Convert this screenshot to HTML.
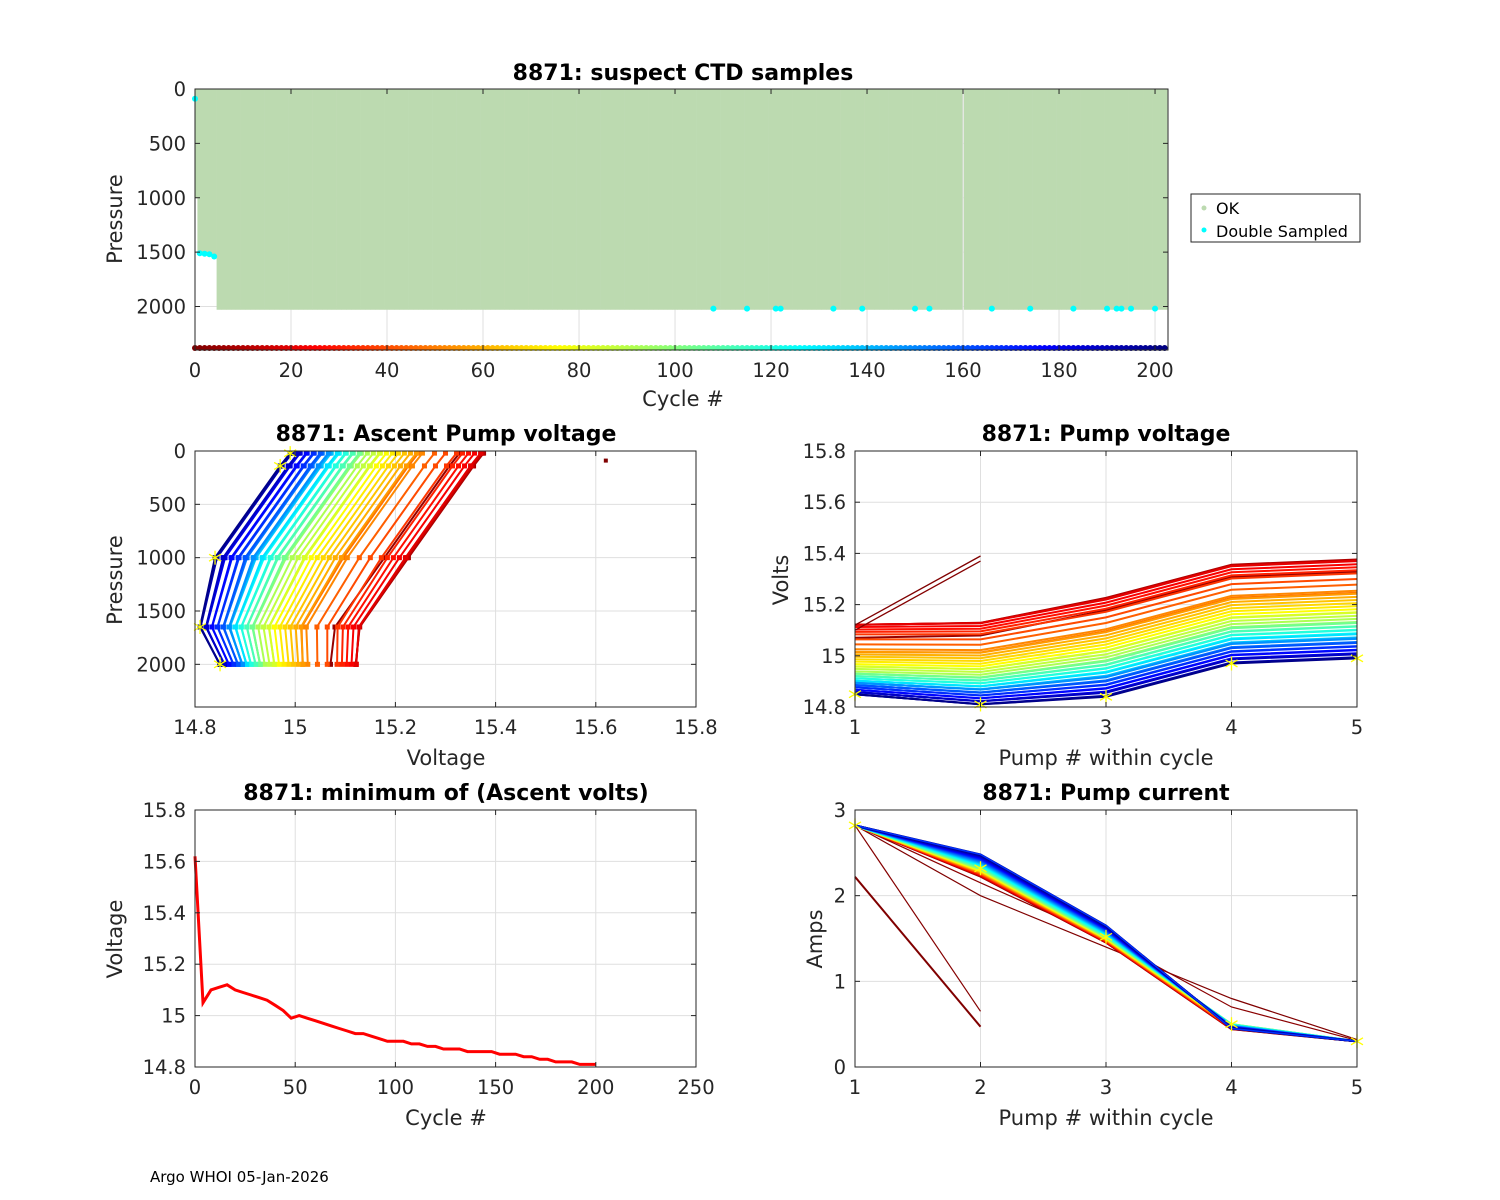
<!DOCTYPE html>
<html><head><meta charset="utf-8"><style>
body{margin:0;background:#fff}
svg{display:block;font-family:"DejaVu Sans","Liberation Sans",sans-serif}
.tk{font-size:19.5px;fill:#262626}
.ttl{font-size:22px;font-weight:bold;fill:#000}
.lbl{font-size:21px;fill:#262626}
</style></head><body>
<svg id="s" width="1500" height="1200" viewBox="0 0 1500 1200" xmlns="http://www.w3.org/2000/svg">
<rect width="1500" height="1200" fill="#fff"/>
<text x="150" y="1182" font-size="15" fill="#000">Argo WHOI 05-Jan-2026</text>
</svg>
<script>
// ---- data ----
const sampleCycles = [0,4,8,12,16,20,24,28,32,36,40,44,48,52,56,60,64,68,72,76,80,84,88,92,96,100,104,108,112,116,120,124,128,132,136,140,144,148,152,156,160,164,168,172,176,180,184,188,192,196,200];
const minVolt = [15.62,15.05,15.10,15.11,15.12,15.10,15.09,15.08,15.07,15.06,15.04,15.02,14.99,15.00,14.99,14.98,14.97,14.96,14.95,14.94,14.93,14.93,14.92,14.91,14.90,14.90,14.90,14.89,14.89,14.88,14.88,14.87,14.87,14.87,14.86,14.86,14.86,14.86,14.85,14.85,14.85,14.84,14.84,14.83,14.83,14.82,14.82,14.82,14.81,14.81,14.81];
const pumpOffsetEarly = [0.02,0.03,0.13,0.26,0.28];
const pumpOffsetLate = [0.04,0,0.03,0.16,0.18];
const pumpPressures = [2000,1650,1000,140,20];
const pumpNumbers = [1,2,3,4,5];
const outlierVoltA = [15.12,15.39];
const outlierVoltB = [15.10,15.37];
const currentLate = [2.82,2.48,1.65,0.45,0.30];
const currentMid = [2.82,2.32,1.52,0.50,0.30];
const currentEarly = [2.82,2.22,1.45,0.44,0.30];
const currentOutA = [2.82,2.00,1.40,0.80,0.32];
const currentOutB = [2.82,2.15,1.50,0.70,0.31];
const currentShortA = [2.22,0.47];
const currentShortB = [2.82,0.65];
const profileDepth = {0:1000,1:1500,2:1510,3:1520,4:1540};
const fullDepth = 2030;
const lastCycle = 202;
const missingCycle = 160;
const dblCycles = [0,1,2,3,4,108,115,121,122,133,139,150,153,166,174,183,190,192,193,195,200];
const dblPress = [90,1510,1515,1520,1540,2020,2020,2020,2020,2020,2020,2020,2020,2020,2020,2020,2020,2020,2020,2020,2020];

// ---- helpers ----
const S=document.getElementById('s');const NS='http://www.w3.org/2000/svg';
function mk(tag,attrs,parent){const e=document.createElementNS(NS,tag);for(const k in attrs)e.setAttribute(k,attrs[k]);(parent||S).appendChild(e);return e;}
function jet(t){t=Math.max(0,Math.min(1,t));const f=x=>Math.round(255*Math.max(0,Math.min(1,1.5-Math.abs(4*t-x))));return `rgb(${f(3)},${f(2)},${f(1)})`;}
function cyc(c){return jet(1-c/lastCycle);}
function axes(name,x0,y0,w,h,xmin,xmax,ymin,ymax,rev,xt,yt,xfmt,yfmt,grid){
  const g=mk('g',{});
  const sx=v=>x0+(v-xmin)/(xmax-xmin)*w;
  const sy=rev?(v=>y0+(v-ymin)/(ymax-ymin)*h):(v=>y0+h-(v-ymin)/(ymax-ymin)*h);
  const gg=mk('g',{},g);
  if(grid){xt.forEach(v=>mk('line',{x1:sx(v),x2:sx(v),y1:y0,y2:y0+h,stroke:'#dfdfdf','stroke-width':1},gg));
  yt.forEach(v=>mk('line',{x1:x0,x2:x0+w,y1:sy(v),y2:sy(v),stroke:'#dfdfdf','stroke-width':1},gg));}
  const plot=mk('g',{},g);
  const fr=mk('g',{},g);
  mk('rect',{x:x0,y:y0,width:w,height:h,fill:'none',stroke:'#262626','stroke-width':1},fr);
  xt.forEach(v=>{mk('line',{x1:sx(v),x2:sx(v),y1:y0+h,y2:y0+h-5,stroke:'#262626'},fr);mk('line',{x1:sx(v),x2:sx(v),y1:y0,y2:y0+5,stroke:'#262626'},fr);
    const t=mk('text',{x:sx(v),y:y0+h+27,'text-anchor':'middle',class:'tk'},fr);t.textContent=xfmt(v);
    });
  yt.forEach(v=>{mk('line',{x1:x0,x2:x0+5,y1:sy(v),y2:sy(v),stroke:'#262626'},fr);mk('line',{x1:x0+w,x2:x0+w-5,y1:sy(v),y2:sy(v),stroke:'#262626'},fr);
    const t=mk('text',{x:x0-9,y:sy(v)+7,'text-anchor':'end',class:'tk'},fr);t.textContent=yfmt(v);
    });
  return {sx,sy,plot,fr,g};
}
function txt(s,x,y,cls,name,rot){const t=mk('text',{x,y,'text-anchor':'middle',class:cls});if(rot)t.setAttribute('transform',`rotate(-90 ${x} ${y})`);t.textContent=s;return t;}
function poly(A,xs,ys,col,sw,name){const d=xs.map((x,i)=>(i?'L':'M')+A.sx(x).toFixed(1)+' '+A.sy(ys[i]).toFixed(1)).join('');const p=mk('path',{d,stroke:col,'stroke-width':sw,fill:'none'},A.plot);return p;}
function star(A,x,y,name){const cx=A.sx(x),cy=A.sy(y);const g=mk('g',{stroke:'#ffff00','stroke-width':1.3},A.plot);
  [[0,7],[6,3.5],[6,-3.5]].forEach(([dx,dy])=>mk('line',{x1:cx-dx,y1:cy-dy,x2:cx+dx,y2:cy+dy},g));}
const fmtD=v=>String(+v.toFixed(1));
function pumpVolts(i){const t=Math.min(1,sampleCycles[i]/200);const v=Math.min(minVolt[i],15.10);return pumpOffsetEarly.map((o,k)=>v+o*(1-t)+pumpOffsetLate[k]*t);}

// ---- Panel 1 ----
const A1=axes('ctd-samples-axes',195,89,973,261,0,lastCycle+0.7,0,2400,true,[0,20,40,60,80,100,120,140,160,180,200],[0,500,1000,1500,2000],String,String,true);
for(let c=0;c<=lastCycle;c++){if(c===missingCycle)continue;const d=profileDepth[c]!==undefined?profileDepth[c]:fullDepth;
  const x1=A1.sx(Math.max(0,c-0.5)),x2=A1.sx(c+0.5)+(c===missingCycle-1?1.6:0);
  const xl=(c===missingCycle+1)?A1.sx(c-0.5)-1.6:x1;
  const r=mk('rect',{x:xl,y:A1.sy(0),width:x2-xl+0.3,height:A1.sy(d)-A1.sy(0),fill:'#bcdab0'},A1.plot);
  }
for(let c=0;c<=lastCycle;c++){const e=mk('circle',{cx:A1.sx(c),cy:A1.sy(2400)-2,r:3,fill:cyc(c)},A1.plot);}
dblCycles.forEach((c,i)=>{const e=mk('circle',{cx:A1.sx(c),cy:A1.sy(dblPress[i]),r:3,fill:'#00ffff'},A1.plot);});
txt('8871: suspect CTD samples',683,80,'ttl','ctd-title');
txt('Cycle #',683,406,'lbl','ctd-x-axis-title');
txt('Pressure',122,219,'lbl','ctd-y-axis-title',true);
const lg=mk('g',{});
mk('rect',{x:1191,y:194,width:169,height:48,fill:'#fff',stroke:'#262626'},lg);
mk('circle',{cx:1204,cy:208,r:2.5,fill:'#bcdab0'},lg);mk('circle',{cx:1204,cy:230,r:2.5,fill:'#00ffff'},lg);
let t=mk('text',{x:1216,y:214,'font-size':16,fill:'#000'},lg);t.textContent='OK';
t=mk('text',{x:1216,y:237,'font-size':16,fill:'#000'},lg);t.textContent='Double Sampled';

// ---- Panel 2 ----
const A2=axes('ascent-voltage-axes',195,451,501,256,14.8,15.8,0,2400,true,[14.8,15,15.2,15.4,15.6,15.8],[0,500,1000,1500,2000],fmtD,String,true);
for(let i=1;i<sampleCycles.length;i++){const v=pumpVolts(i);const col=cyc(sampleCycles[i]);
  poly(A2,v,pumpPressures,col,2,'ascent-profile-line');
  v.forEach((x,k)=>{const e=mk('rect',{x:A2.sx(x)-2.5,y:A2.sy(pumpPressures[k])-2.5,width:5,height:5,fill:col},A2.plot);});}
{const e=mk('rect',{x:A2.sx(minVolt[0])-2,y:A2.sy(90)-2,width:4,height:4,fill:cyc(0)},A2.plot);}
pumpVolts(sampleCycles.length-1).forEach((x,k)=>star(A2,x,pumpPressures[k],'last-cycle-marker'));
txt('8871: Ascent Pump voltage',446,441,'ttl','ascent-voltage-title');
txt('Voltage',446,765,'lbl','ascent-voltage-x-axis-title');
txt('Pressure',122,580,'lbl','ascent-voltage-y-axis-title',true);

// ---- Panel 3 ----
const A3=axes('pump-voltage-axes',855,451,502,256,1,5,14.8,15.8,false,[1,2,3,4,5],[14.8,15,15.2,15.4,15.6,15.8],String,fmtD,true);
for(let i=1;i<sampleCycles.length;i++){poly(A3,pumpNumbers,pumpVolts(i),cyc(sampleCycles[i]),2,'pump-voltage-line');}
poly(A3,[1,2],outlierVoltA,cyc(0),1.3,'pump-voltage-outlier-line');
poly(A3,[1,2],outlierVoltB,cyc(1),1.3,'pump-voltage-outlier-line');
pumpVolts(sampleCycles.length-1).forEach((v,k)=>star(A3,pumpNumbers[k],v,'last-cycle-marker'));
txt('8871: Pump voltage',1106,441,'ttl','pump-voltage-title');
txt('Pump # within cycle',1106,765,'lbl','pump-voltage-x-axis-title');
txt('Volts',788,580,'lbl','pump-voltage-y-axis-title',true);

// ---- Panel 4 ----
const A4=axes('min-volts-axes',195,810,501,257,0,250,14.8,15.8,false,[0,50,100,150,200,250],[14.8,15,15.2,15.4,15.6,15.8],String,fmtD,true);
poly(A4,sampleCycles,minVolt,'#ff0000',3,'min-volts-line');
txt('8871: minimum of (Ascent volts)',446,800,'ttl','min-volts-title');
txt('Cycle #',446,1125,'lbl','min-volts-x-axis-title');
txt('Voltage',122,939,'lbl','min-volts-y-axis-title',true);

// ---- Panel 5 ----
const A5=axes('pump-current-axes',855,810,502,257,1,5,0,3,false,[1,2,3,4,5],[0,1,2,3],String,String,true);
poly(A5,pumpNumbers,currentOutA,cyc(0),1.2,'pump-current-outlier-line');
poly(A5,pumpNumbers,currentOutB,cyc(2),1.2,'pump-current-outlier-line');
poly(A5,[1,2],currentShortA,cyc(0),2,'pump-current-outlier-line');
poly(A5,[1,2],currentShortB,cyc(1),1.2,'pump-current-outlier-line');
for(let i=1;i<sampleCycles.length;i++){const t=sampleCycles[i]/200;
  const base=t<0.5?currentEarly.map((v,k)=>v+(currentMid[k]-v)*t*2):currentMid.map((v,k)=>v+(currentLate[k]-v)*(t-0.5)*2);
  poly(A5,pumpNumbers,base,cyc(sampleCycles[i]),2.2,'pump-current-line');}
poly(A5,pumpNumbers,currentLate,'#0030ff',1.5,'pump-current-line');
currentMid.forEach((v,k)=>star(A5,pumpNumbers[k],v,'last-cycle-marker'));
txt('8871: Pump current',1106,800,'ttl','pump-current-title');
txt('Pump # within cycle',1106,1125,'lbl','pump-current-x-axis-title');
txt('Amps',822,939,'lbl','pump-current-y-axis-title',true);
</script>
</body></html>
